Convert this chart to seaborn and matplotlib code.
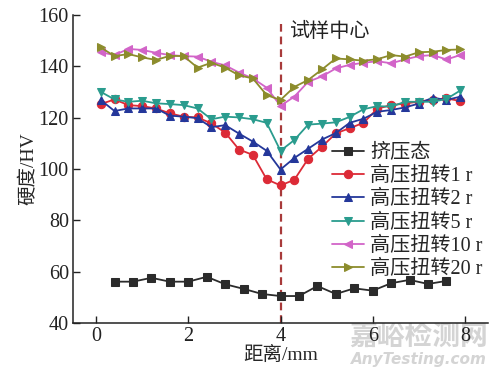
import numpy as np
import pandas as pd
import seaborn as sns
import matplotlib.pyplot as plt

# extruded sample: measured every 0.4 mm
x_ext = [0.4, 0.8, 1.2, 1.6, 2.0, 2.4, 2.8, 3.2, 3.6, 4.0,
         4.4, 4.8, 5.2, 5.6, 6.0, 6.4, 6.8, 7.2, 7.6]
hv_ext = [56.1, 56.1, 57.6, 56.1, 56.1, 58.0, 55.1, 53.3, 51.3, 50.5,
          50.5, 54.4, 51.3, 53.5, 52.6, 55.5, 56.8, 55.2, 56.4]

# HPT samples: measured every 0.3 mm
x_hpt = [0.1, 0.4, 0.7, 1.0, 1.3, 1.6, 1.9, 2.2, 2.5, 2.8, 3.1, 3.4, 3.7, 4.0,
         4.3, 4.6, 4.9, 5.2, 5.5, 5.8, 6.1, 6.4, 6.7, 7.0, 7.3, 7.6, 7.9]
hv_1r = [125.3, 127.1, 124.9, 124.5, 123.6, 121.7, 120.4, 120.1, 117.8, 114.2,
         107.6, 105.5, 96.0, 93.6, 95.8, 104.0, 108.7, 113.9, 115.9, 118.0,
         123.5, 124.9, 125.5, 126.3, 127.0, 127.5, 126.5]
hv_2r = [126.9, 122.6, 123.6, 123.6, 123.6, 120.8, 120.4, 119.8, 116.3, 117.1,
         113.8, 110.7, 107.1, 99.8, 104.3, 107.9, 111.5, 114.0, 118.0, 119.6,
         122.3, 123.0, 124.0, 125.5, 127.8, 126.9, 128.2]
hv_5r = [130.1, 127.1, 126.2, 126.6, 125.6, 125.3, 124.9, 123.6, 119.4, 120.4,
         120.1, 119.4, 118.0, 107.1, 111.3, 117.3, 117.7, 118.2, 120.3, 123.3,
         124.5, 124.3, 126.2, 126.2, 126.2, 127.3, 130.6]
hv_10r = [145.5, 144.4, 146.8, 146.4, 145.3, 144.4, 144.0, 143.8, 141.8, 140.4,
          137.6, 135.3, 131.7, 124.6, 128.2, 134.0, 136.1, 139.2, 140.6, 141.4,
          142.0, 141.2, 142.7, 144.0, 144.4, 142.7, 144.4]
hv_20r = [147.4, 144.0, 144.8, 143.5, 142.5, 144.1, 144.0, 139.5, 141.4, 139.5,
          136.5, 135.3, 128.8, 126.9, 132.0, 134.7, 138.8, 143.1, 142.7, 142.2,
          142.8, 144.4, 143.8, 145.5, 145.7, 146.4, 146.6]

labels = ['挤压态', '高压扭转1 r', '高压扭转2 r', '高压扭转5 r',
          '高压扭转10 r', '高压扭转20 r']
colors = ['#2b2b2b', '#dc2a36', '#24379a', '#2a9c8e', '#d264c8', '#8c8c2c']
markers = ['s', 'o', '^', 'v', '<', '>']

sns.set_style('white')
plt.rcParams['font.family'] = ['Liberation Serif', 'Noto Sans CJK SC']

fig = plt.figure(figsize=(5, 3.76), dpi=100)
ax = fig.add_axes([0.146, 0.141, 0.83, 0.819])

series = [(x_ext, hv_ext)] + [(x_hpt, s) for s in (hv_1r, hv_2r, hv_5r, hv_10r, hv_20r)]
for (xs, ys), lab, c, m in zip(series, labels, colors, markers):
    sns.lineplot(x=xs, y=ys, ax=ax, color=c, marker=m, markersize=6,
                 markeredgecolor=c, linewidth=1.3, label=lab)

ax.axvline(4.0, ymin=0, ymax=0.97, color='#a83a3a', linestyle=(0, (3.5, 2.2)),
           linewidth=1.6, zorder=0)
ax.text(4.2, 153.3, '试样中心', fontsize=14.5, va='center', ha='left', color='#222222')

ax.set_xlim(-0.5, 8.5)
ax.set_ylim(40, 160)
ax.set_xticks([0, 2, 4, 6, 8])
ax.set_yticks([40, 60, 80, 100, 120, 140, 160])
ax.tick_params(direction='in', length=5, width=1, labelsize=14.5, colors='#222222',
               left=True, bottom=True, pad=3)
for side in ['top', 'right']:
    ax.spines[side].set_visible(False)
for side in ['left', 'bottom']:
    ax.spines[side].set_color('#222222')
    ax.spines[side].set_linewidth(1.1)

ax.set_xlabel('距离/mm', fontsize=14, labelpad=0)
ax.set_ylabel('硬度/HV', fontsize=14, labelpad=1)

ax.legend(loc='upper left', bbox_to_anchor=(0.664, 0.617), bbox_transform=fig.transFigure,
          frameon=False, fontsize=14.5, handlelength=1.6, handletextpad=0.3,
          labelspacing=0.2, borderpad=0, borderaxespad=0)

# site watermark
fig.text(0.838, 0.105, '嘉峪检测网', fontsize=20, color='#d4d4d4', ha='center', va='center',
         family=['Noto Sans CJK SC'], weight='bold', zorder=-1)
fig.text(0.838, 0.043, 'AnyTesting.com', fontsize=11, color='#d4d4d4', ha='center', va='center',
         family=['DejaVu Sans'], style='italic', weight='bold', zorder=-1)

fig.savefig('out.png', dpi=100)
